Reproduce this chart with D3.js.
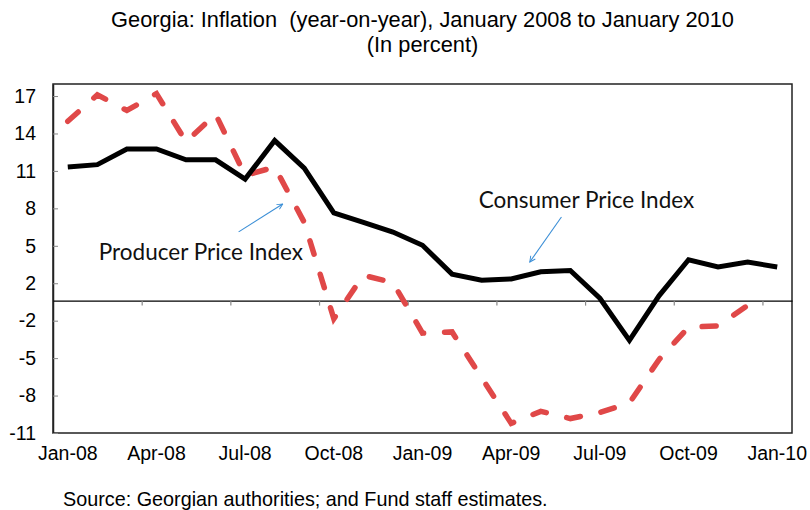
<!DOCTYPE html>
<html>
<head>
<meta charset="utf-8">
<script src="https://cdn.jsdelivr.net/npm/d3@7"></script>
<style>
    body { margin: 0; background: #fff; }
    text { font-family: "Liberation Sans", Arial, sans-serif; }
</style>
</head>
<body>
<div id="my_dataviz"></div>
<script>
// months on the x axis
const months = ["Jan-08", "Feb-08", "Mar-08", "Apr-08", "May-08", "Jun-08", "Jul-08", "Aug-08", "Sep-08",
    "Oct-08", "Nov-08", "Dec-08", "Jan-09", "Feb-09", "Mar-09", "Apr-09", "May-09", "Jun-09", "Jul-09",
    "Aug-09", "Sep-09", "Oct-09", "Nov-09", "Dec-09", "Jan-10"]

// Consumer Price Index, y-o-y percent
const cpi = [11.1, 11.3, 12.6, 12.6, 11.7, 11.7, 10.1, 13.3, 11.0, 7.3, 6.5, 5.7, 4.6,
    2.2, 1.7, 1.8, 2.4, 2.5, 0.2, -3.3, 0.4, 3.4, 2.8, 3.2, 2.8]

// Producer Price Index, y-o-y percent (no Jan-10 value)
const ppi = [14.9, 17.1, 15.8, 17.2, 13.2, 15.5, 10.4, 11.1, 6.5, -1.5, 2.1, 1.5, -2.7,
    -2.6, -6.4, -10.2, -9.2, -9.8, -9.3, -8.5, -4.9, -2.2, -2.1, -0.4, null]

// y tick labels as printed on the chart, bottom to top
const yTickLabels = ["-11", "-8", "-5", "-2", "2", "5", "8", "11", "14", "17"]

// x labels every third month
const xLabels = months.filter((m, i) => i % 3 === 0)

const titleLines = ["Georgia: Inflation  (year-on-year), January 2008 to January 2010", "(In percent)"]
const sourceNote = "Source: Georgian authorities; and Fund staff estimates."

const margin = {
        top: 84,
        right: 18,
        bottom: 77,
        left: 53
    },
    width = 810 - margin.left - margin.right,
    height = 510 - margin.top - margin.bottom;

const svg = d3.select("#my_dataviz")
    .append("svg")
    .attr("width", 810)
    .attr("height", 510)
    .append("g")
    .attr("transform", `translate(${margin.left}, ${margin.top})`);

const x = d3.scaleBand()
    .domain(months)
    .range([0, width])

// fractional month position, used for the callouts
const xi = d3.scaleLinear()
    .domain([-0.5, months.length - 0.5])
    .range([0, width])

const y = d3.scaleLinear()
    .domain([-11, 18])
    .range([height, 0]);

// title
svg.append("g")
    .selectAll("text")
    .data(titleLines)
    .join("text")
    .attr("x", width / 2)
    .attr("y", (d, i) => -57 + i * 25)
    .attr("text-anchor", "middle")
    .style("font-size", "21.8px")
    .style("white-space", "pre")
    .text(d => d)

// plot frame
svg.append("rect")
    .attr("width", width)
    .attr("height", height)
    .attr("fill", "none")
    .attr("stroke", "#222")
    .attr("stroke-width", 1.5)

// y axis, ticks inside, 9 equal steps from -11 to 17
const yTicks = d3.range(yTickLabels.length).map(i => -11 + i * 28 / 9)
const yAxis = svg.append("g")
    .call(d3.axisLeft(y).tickValues(yTicks)
        .tickFormat((d, i) => yTickLabels[i])
        .tickSizeInner(-5).tickSizeOuter(0).tickPadding(17))
yAxis.select(".domain").attr("stroke", "#222").attr("stroke-width", 1.5)
yAxis.selectAll(".tick line").attr("stroke", "#888")
yAxis.selectAll("text")
    .style("font-size", "19.5px")
    .attr("fill", "#000")

// zero line with quarter ticks at month boundaries
const boundaries = d3.range(3, months.length, 3)
const zeroAxis = svg.append("g")
    .attr("transform", `translate(0, ${y(0)})`)
    .call(d3.axisBottom(xi).tickValues(boundaries.map(b => b - 0.5))
        .tickFormat("").tickSizeInner(5).tickSizeOuter(0))
zeroAxis.select(".domain").attr("stroke", "#000").attr("stroke-width", 1.2)
zeroAxis.selectAll(".tick line").attr("stroke", "#888").attr("stroke-width", 1.2)

// month labels under the plot
const xAxis = svg.append("g")
    .attr("transform", `translate(0, ${height})`)
    .call(d3.axisBottom(x).tickValues(xLabels).tickSize(0).tickPadding(13))
xAxis.select(".domain").remove()
xAxis.selectAll("text")
    .style("font-size", "19.5px")
    .attr("fill", "#000")

const line = d3.line()
    .defined(d => d.v !== null)
    .x(d => x(d.m) + x.bandwidth() / 2)
    .y(d => y(d.v))

// Producer Price Index: red dashes
svg.append("path")
    .datum(months.map((m, i) => ({ m: m, v: ppi[i] })))
    .attr("fill", "none")
    .attr("stroke", "#e04848")
    .attr("stroke-width", 5.5)
    .attr("stroke-linecap", "round")
    .attr("stroke-dasharray", "14,21")
    .attr("d", line)

// Consumer Price Index: black solid
svg.append("path")
    .datum(months.map((m, i) => ({ m: m, v: cpi[i] })))
    .attr("fill", "none")
    .attr("stroke", "#000")
    .attr("stroke-width", 5)
    .attr("stroke-linejoin", "miter")
    .attr("d", line)

// callouts: label and arrow in data coordinates (month index, value)
const callouts = [
    { label: "Producer Price Index", tx: 1.05, ty: 3.4, from: [5.78, 5.71], to: [7.27, 8.03] },
    { label: "Consumer Price Index", tx: 13.9, ty: 7.7, from: [16.7, 6.95], to: [15.63, 3.21] }
]

svg.append("defs").append("marker")
    .attr("id", "arrowhead")
    .attr("viewBox", "0 0 10 10")
    .attr("refX", 9)
    .attr("refY", 5)
    .attr("markerWidth", 7)
    .attr("markerHeight", 7)
    .attr("markerUnits", "userSpaceOnUse")
    .attr("orient", "auto")
    .append("path")
    .attr("d", "M1,1 L9,5 L1,9")
    .attr("fill", "none")
    .attr("stroke", "#3a8ed6")
    .attr("stroke-width", 1.4)

svg.append("g")
    .selectAll("line")
    .data(callouts)
    .join("line")
    .attr("x1", d => xi(d.from[0]))
    .attr("y1", d => y(d.from[1]))
    .attr("x2", d => xi(d.to[0]))
    .attr("y2", d => y(d.to[1]))
    .attr("stroke", "#3a8ed6")
    .attr("stroke-width", 1.1)
    .attr("marker-end", "url(#arrowhead)")

svg.append("g")
    .selectAll("text")
    .data(callouts)
    .join("text")
    .attr("x", d => xi(d.tx))
    .attr("y", d => y(d.ty))
    .style("font-family", "Lato, 'Open Sans', sans-serif")
    .style("font-size", "22.5px")
    .attr("fill", "#111")
    .text(d => d.label)

// source note
svg.append("text")
    .attr("x", 10)
    .attr("y", height + 73)
    .style("font-size", "19.8px")
    .text(sourceNote)
</script>
</body>
</html>
